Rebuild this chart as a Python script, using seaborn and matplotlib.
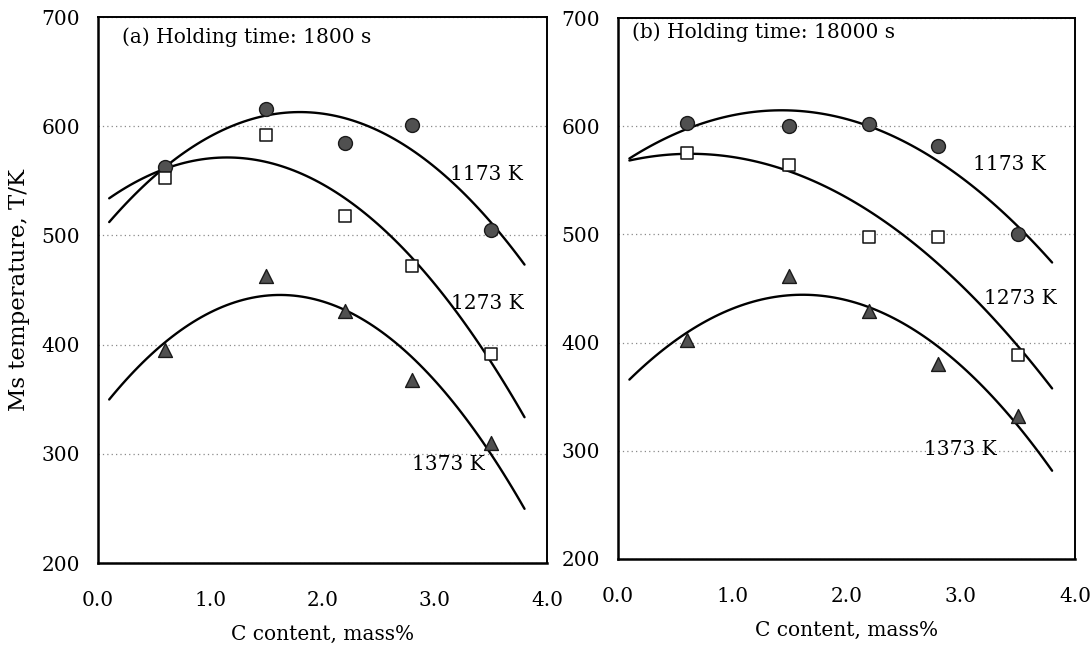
import matplotlib
matplotlib.use("Agg")
import matplotlib.pyplot as plt
import seaborn as sns
from matplotlib.ticker import MultipleLocator, FormatStrFormatter

# ---- data ----
c_content = [0.6, 1.5, 2.2, 2.8, 3.5]

ms_a_1173 = [563, 616, 585, 601, 505]
ms_a_1273 = [553, 592, 518, 472, 391]
ms_a_1373 = [395, 463, 431, 368, 310]

ms_b_1173 = [603, 600, 602, 582, 500]
ms_b_1273 = [575, 564, 498, 498, 389]
ms_b_1373 = [402, 462, 429, 380, 332]

temp_labels = ["1173 K", "1273 K", "1373 K"]
panel_titles = ["(a) Holding time: 1800 s", "(b) Holding time: 18000 s"]
xtick_values = [0.0, 1.0, 2.0, 3.0, 4.0]
ytick_values = [200, 300, 400, 500, 600, 700]
fit_range = (0.1, 3.8)

# ---- styling ----
sns.set_style("white")
plt.rcParams["font.family"] = ["DejaVu Serif", "DejaVu Sans"]
plt.rcParams["text.color"] = "black"
plt.rcParams["axes.labelcolor"] = "black"
plt.rcParams["xtick.color"] = "black"
plt.rcParams["ytick.color"] = "black"

fig = plt.figure(figsize=(10.92, 6.5), dpi=100)
ax_a = fig.add_axes([0.0897, 0.1338, 0.4112, 0.840])
ax_b = fig.add_axes([0.5659, 0.1400, 0.4185, 0.8323])

marker_kw = {
    "1173 K": dict(marker="o", s=100, color="#505050", edgecolor="#1a1a1a", linewidth=1.0),
    "1273 K": dict(marker="s", s=85, color="white", edgecolor="#111111", linewidth=1.1),
    "1373 K": dict(marker="^", s=100, color="#505050", edgecolor="#1a1a1a", linewidth=1.0),
}

panels = [
    (ax_a, panel_titles[0], [ms_a_1173, ms_a_1273, ms_a_1373],
     [(3.46, 556), (3.47, 438), (3.12, 290)], (0.21, 682)),
    (ax_b, panel_titles[1], [ms_b_1173, ms_b_1273, ms_b_1373],
     [(3.43, 565), (3.52, 441), (3.00, 301)], (0.12, 687)),
]

for ax, title, series, label_pos, title_pos in panels:
    # fitted quadratic trend lines (extended over fit_range)
    ax.set_xlim(*fit_range)
    for vals in series:
        sns.regplot(x=c_content, y=vals, order=2, ci=None, scatter=False,
                    truncate=False, ax=ax,
                    line_kws=dict(color="black", lw=1.7, zorder=3))
    # data markers
    for name, vals in zip(temp_labels, series):
        sns.scatterplot(x=c_content, y=vals, ax=ax, zorder=4, legend=False,
                        **marker_kw[name])
    # curve labels
    for name, (tx, ty) in zip(temp_labels, label_pos):
        ax.text(tx, ty, name, ha="center", va="center", fontsize=14.5,
                color="black", zorder=5)
    ax.text(title_pos[0], title_pos[1], title, ha="left", va="center",
            fontsize=14.5, color="black")

    ax.set_xlim(0, 4)
    ax.set_ylim(200, 700)
    ax.set_xticks(xtick_values)
    ax.set_yticks(ytick_values)
    ax.xaxis.set_major_formatter(FormatStrFormatter("%.1f"))
    ax.xaxis.set_minor_locator(MultipleLocator(0.5))
    ax.yaxis.set_minor_locator(MultipleLocator(50))
    ax.tick_params(axis="both", which="both", direction="in", colors="black",
                   labelsize=14.5, width=1.4)
    ax.tick_params(axis="x", which="both", length=5, pad=20, top=False)
    ax.tick_params(axis="y", which="both", length=5, pad=13, right=False)
    ax.yaxis.grid(True, which="major", linestyle=(0, (1, 2.5)), color="#8a8a8a", lw=0.9)
    ax.xaxis.grid(False)
    for side, sp in ax.spines.items():
        sp.set_color("black")
        sp.set_linewidth(1.8 if side in ("left", "bottom") else 1.4)
    ax.set_xlabel("C content, mass%", fontsize=14.5, labelpad=11, color="black")
    ax.set_ylabel("")

ax_a.set_ylabel("Ms temperature, T/K", fontsize=16.5, labelpad=8, color="black")

fig.savefig("out.png", dpi=100)
